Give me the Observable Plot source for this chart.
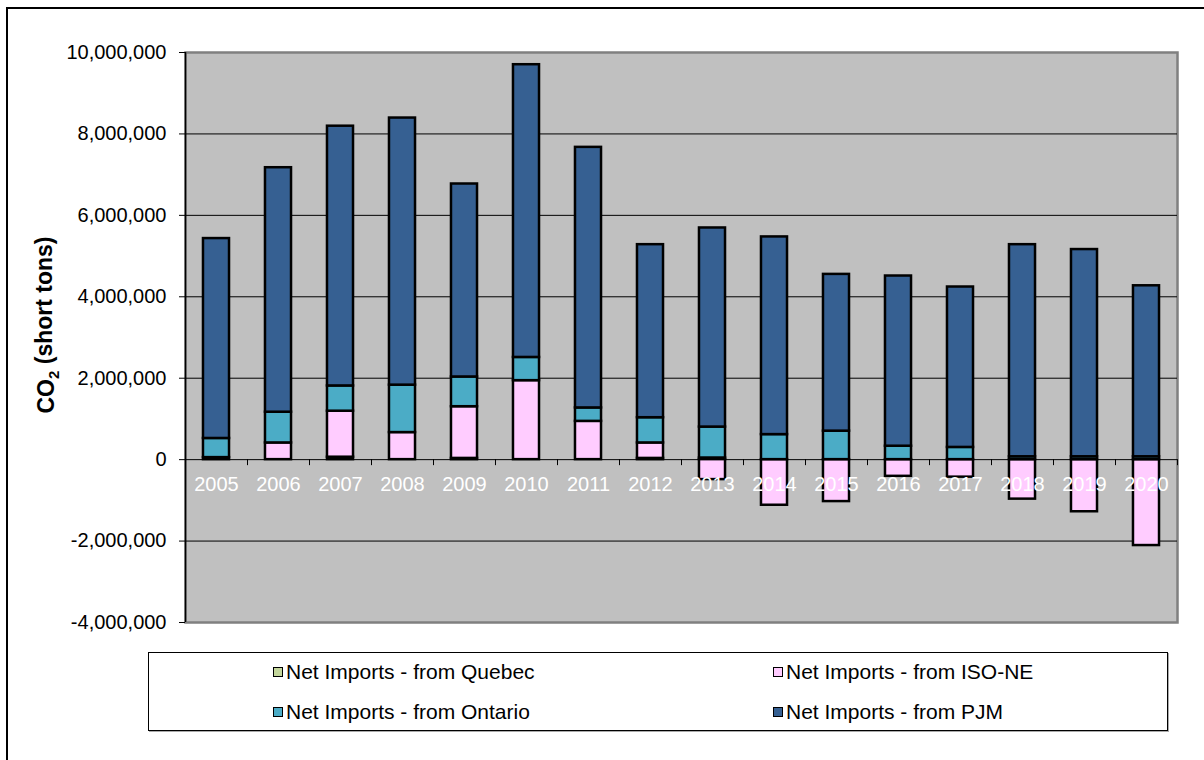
<!DOCTYPE html>
<html><head><meta charset="utf-8">
<script src="https://cdn.jsdelivr.net/npm/d3@7"></script>
<script src="https://cdn.jsdelivr.net/npm/@observablehq/plot@0.6"></script>
<style>
html,body{margin:0;padding:0;background:#fff;}
#wrap{position:relative;width:1204px;height:760px;overflow:hidden;font-family:"Liberation Sans",Arial,sans-serif;}
#outer{position:absolute;left:6px;top:7px;width:1300px;height:900px;border-top:2px solid #000;border-left:2px solid #000;}
#chart{position:absolute;left:0;top:0;}
#legend{position:absolute;left:148px;top:652px;width:1018px;height:77px;border:1.5px solid #000;box-shadow:1px 1px 0 #aaa;background:#fff;}
.item{position:absolute;display:flex;align-items:center;font-size:21px;color:#000;white-space:nowrap;}
.sw{width:8px;height:8px;border:1.5px solid #000;margin-right:3px;}
</style>
</head><body>
<div id="wrap"><div id="outer"></div><div id="chart"></div><div id="legend"></div></div>
<script>
const years = ["2005","2006","2007","2008","2009","2010","2011","2012","2013","2014","2015","2016","2017","2018","2019","2020"];
const seriesNames = ["Net Imports - from Quebec","Net Imports - from ISO-NE","Net Imports - from Ontario","Net Imports - from PJM"];
const quebec  = [50000, 0, 60000, 0, 30000, 0, 0, 30000, 40000, 0, 0, 0, 0, 0, 0, 0];
const isoNE   = [0, 410000, 1130000, 665000, 1270000, 1940000, 940000, 380000, -490000, -1120000, -1030000, -410000, -430000, -970000, -1280000, -2110000];
const ontario = [470000, 755000, 620000, 1165000, 730000, 570000, 330000, 620000, 760000, 615000, 700000, 330000, 300000, 70000, 70000, 70000];
const pjm     = [4910000, 6005000, 6380000, 6560000, 4740000, 7190000, 6400000, 4250000, 4890000, 4855000, 3850000, 4180000, 3940000, 5210000, 5090000, 4200000];
const colors  = ["#c3d69b","#ffccff","#4bacc6","#366092"];
const yTicks  = [-4000000,-2000000,0,2000000,4000000,6000000,8000000,10000000];
const gridTicks = [-2000000,0,2000000,4000000,6000000,8000000];

const seriesValues = [quebec, isoNE, ontario, pjm];
const rows = [];
seriesNames.forEach((s, si) => years.forEach((yr, i) => {
  const v = seriesValues[si][i];
  if (v !== 0) rows.push({year: yr, series: s, value: v});
}));

const W = 1204, H = 645, ML = 185, MR = 27, MT = 52, MB = 23;
const half = (W - ML - MR) / years.length / 2;
const fmt = d => d3.format(",")(d).replace("\u2212", "-");

const chart = Plot.plot({
  width: W, height: H,
  marginLeft: ML, marginRight: MR, marginTop: MT, marginBottom: MB,
  style: {background: "transparent", fontFamily: "'Liberation Sans', Arial, sans-serif", fontSize: "20px", color: "#000", overflow: "visible"},
  x: {domain: years, paddingInner: 0.58, paddingOuter: 0.29, round: false, axis: null},
  y: {domain: [-4000000, 10000000], axis: null},
  color: {domain: seriesNames, range: colors},
  marks: [
    Plot.frame({fill: "#c0c0c0", stroke: "#808080", strokeWidth: 2.5}),
    Plot.ruleY(gridTicks, {stroke: "#000", strokeWidth: 1}),
    Plot.barY(rows, Plot.stackY({order: null}, {x: "year", y: "value", fill: "series", stroke: "#000", strokeWidth: 2.5})),
    Plot.text(years, {x: d => d, y: 0, dy: 25, text: d => d, fill: "#fff", fontSize: 20}),
    Plot.ruleX(years, {x: d => d, y1: 0, y2: 0, dx: -half, insetBottom: -6, stroke: "#000", strokeWidth: 1}),
    Plot.ruleX([years[years.length - 1]], {x: d => d, y1: 0, y2: 0, dx: half, insetBottom: -6, stroke: "#000", strokeWidth: 1}),
    Plot.ruleX([years[0]], {x: d => d, y1: -4000000, y2: 10000000, dx: -half, stroke: "#000", strokeWidth: 1.5}),
    Plot.axisY({ticks: yTicks, tickSize: 6, tickPadding: 13, tickFormat: fmt, label: null, fontSize: 20, stroke: "#000"})
  ]
});
document.getElementById("chart").appendChild(chart);

// y-axis title with subscript
const svg = d3.select(chart.tagName.toLowerCase() === "svg" ? chart : chart.querySelector("svg"));
const t = svg.append("text")
  .attr("transform", "translate(54,325) rotate(-90)")
  .attr("text-anchor", "middle")
  .style("font-family", "'Liberation Sans', Arial, sans-serif")
  .style("font-weight", "bold")
  .style("font-size", "23px")
  .attr("fill", "#000");
t.append("tspan").text("CO");
t.append("tspan").attr("dy", "0.3em").style("font-size", "15px").text("2");
t.append("tspan").attr("dy", "-0.3em").text(" (short tons)");

// legend
const legend = document.getElementById("legend");
const pos = [[124, 19], [624, 19], [124, 59], [624, 59]];
const legendOrder = [0, 1, 2, 3];
legendOrder.forEach((si, k) => {
  const d = document.createElement("div");
  d.className = "item";
  d.style.left = pos[k][0] + "px";
  d.style.top = (pos[k][1] - 13) + "px";
  d.style.height = "26px";
  const sw = document.createElement("span");
  sw.className = "sw";
  sw.style.background = colors[si];
  d.appendChild(sw);
  const tx = document.createElement("span");
  tx.textContent = seriesNames[si];
  d.appendChild(tx);
  legend.appendChild(d);
});
</script>
</body></html>
